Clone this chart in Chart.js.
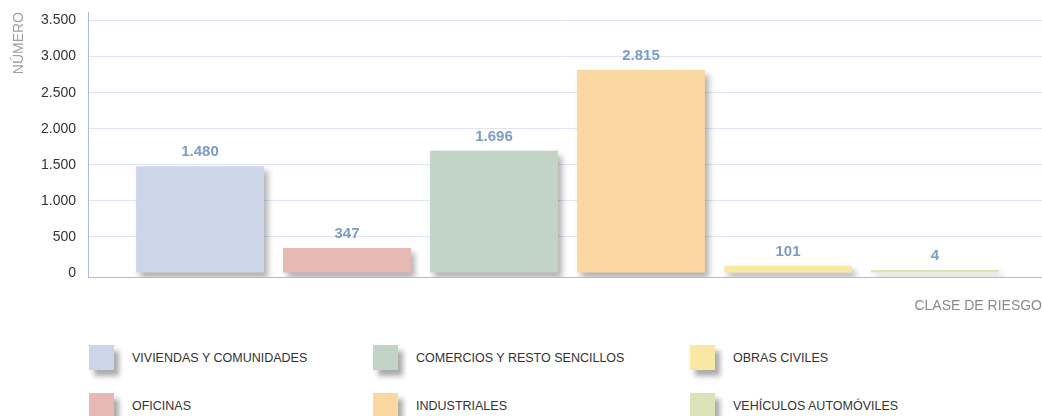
<!DOCTYPE html>
<html>
<head>
<meta charset="utf-8">
<script src="https://cdn.jsdelivr.net/npm/chart.js@4.4.1/dist/chart.umd.min.js"></script>
<style>
  body { margin: 0; background: #fff; width: 1042px; height: 416px; overflow: hidden; position: relative; }
  #wrap { position: absolute; left: 0; top: 0; width: 1042px; height: 315px; }
  #legend {
    position: absolute; left: 89px; top: 345px;
    display: grid; grid-auto-flow: column;
    grid-template-rows: 48px 48px;
    grid-template-columns: 284px 317px 300px;
    font-family: "Liberation Sans", Arial, sans-serif;
    font-size: 12.5px; color: #333;
  }
  .item { display: flex; align-items: flex-start; }
  .swatch { width: 25px; height: 25px; box-shadow: 5px 6px 5px rgba(0,0,0,0.33); margin-right: 18px; }
  .item span { line-height: 26px; }
</style>
</head>
<body>
<div id="wrap"><canvas id="bar-chart"></canvas></div>
<div id="legend"></div>
<script>
var categories = ["VIVIENDAS Y COMUNIDADES", "OFICINAS", "COMERCIOS Y RESTO SENCILLOS", "INDUSTRIALES", "OBRAS CIVILES", "VEHÍCULOS AUTOMÓVILES"];
var values = [1480, 347, 1696, 2815, 101, 4];
var colors = ["#cdd6e8", "#e6b9b4", "#c2d3c8", "#fbd7a1", "#f9e8a3", "#dce3b9"];
var y_ticks = [0, 500, 1000, 1500, 2000, 2500, 3000, 3500];

function fmt(n) {
	return String(n).replace(/\B(?=(\d{3})+(?!\d))/g, ".");
}

// soft shadow under the bars
var barShadow = {
	id: 'barShadow',
	beforeDatasetsDraw: function(chart) {
		var ctx = chart.ctx;
		ctx.save();
		ctx.shadowColor = 'rgba(0,0,0,0.3)';
		ctx.shadowBlur = 6;
		ctx.shadowOffsetX = 4;
		ctx.shadowOffsetY = 5;
	},
	afterDatasetsDraw: function(chart) {
		chart.ctx.restore();
	}
};

// value labels on top of the bars
var valueLabels = {
	id: 'valueLabels',
	afterDraw: function(chart) {
		var ctx = chart.ctx;
		var meta = chart.getDatasetMeta(0);
		ctx.save();
		ctx.font = "bold 15px 'Liberation Sans', Arial, sans-serif";
		ctx.fillStyle = '#7b9bcb';
		ctx.textAlign = 'center';
		ctx.textBaseline = 'middle';
		meta.data.forEach(function(bar, i) {
			ctx.fillText(fmt(values[i]), bar.x, bar.y - 14);
		});
		ctx.restore();
	}
};

new Chart(document.getElementById("bar-chart"), {
	type: 'bar',
	data: {
		datasets: [{
			data: categories.map(function(c, i) { return { x: i, y: values[i] }; }),
			backgroundColor: colors,
			borderWidth: 0,
			barPercentage: 0.87,
			categoryPercentage: 1,
			minBarLength: 3
		}]
	},
	options: {
		responsive: true,
		maintainAspectRatio: false,
		animation: false,
		layout: { padding: { top: 12, left: 11, right: 0, bottom: 0 } },
		plugins: {
			legend: { display: false },
			tooltip: { enabled: false }
		},
		scales: {
			x: {
				type: 'linear',
				offset: false,
				min: -0.762,
				max: 5.728,
				afterBuildTicks: function(scale) {
					scale.ticks = categories.map(function(c, i) { return { value: i }; });
				},
				grid: { display: false },
				border: { color: '#a8bcdc', width: 1 },
				ticks: { display: false },
				title: {
					display: true,
					text: 'CLASE DE RIESGO',
					align: 'end',
					color: '#8a8a8a',
					font: { family: "'Liberation Sans', Arial, sans-serif", size: 14 },
					padding: 0
				},
				afterFit: function(scale) { scale.height = 38; }
			},
			y: {
				min: -55,
				max: 3618,
				afterBuildTicks: function(scale) {
					scale.ticks = y_ticks.map(function(v) { return { value: v }; });
				},
				grid: {
					drawTicks: false,
					color: function(c) { return c.tick && c.tick.value === 0 ? 'rgba(0,0,0,0)' : '#dfe6f1'; }
				},
				border: { color: '#a8bcdc', width: 1 },
				ticks: {
					color: '#333',
					padding: 12,
					font: { family: "'Liberation Sans', Arial, sans-serif", size: 14 },
					callback: function(v) { return fmt(v); }
				},
				title: {
					display: true,
					text: 'NÚMERO',
					align: 'end',
					color: '#a0a0a0',
					font: { family: "'Liberation Sans', Arial, sans-serif", size: 14 },
					padding: 0
				},
				afterFit: function(scale) {
					scale.width = 77;
					scale.paddingTop = 0;
					scale.paddingBottom = 0;
				}
			}
		}
	},
	plugins: [barShadow, valueLabels]
});

var html = "";
for (let i in categories) {
	html += "<div class='item'><div class='swatch' style='background:" + colors[i] + "'></div><span>" + categories[i] + "</span></div>";
}
document.getElementById("legend").innerHTML = html;
</script>
</body>
</html>
